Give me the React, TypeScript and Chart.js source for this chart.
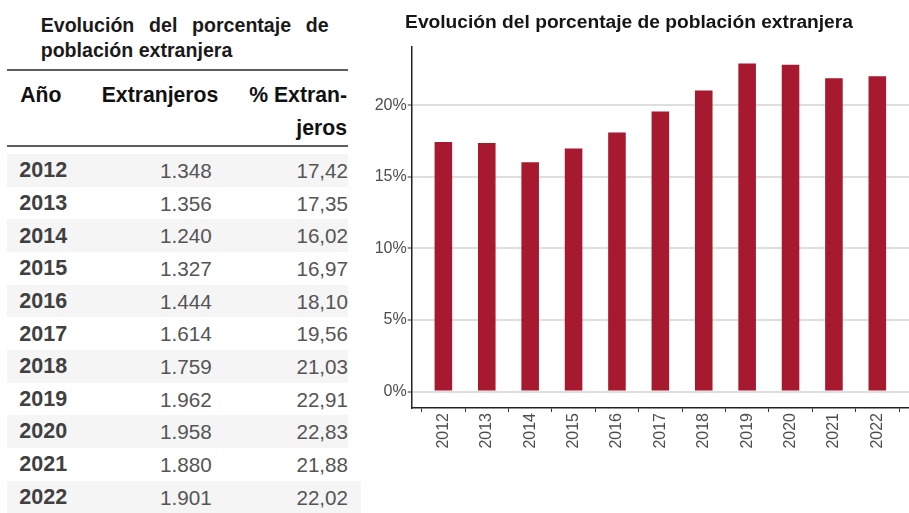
import React, { useEffect, useRef } from "react";
import { Chart, registerables } from "chart.js";

Chart.register(...registerables);

const years = [2012, 2013, 2014, 2015, 2016, 2017, 2018, 2019, 2020, 2021, 2022];
const foreigners = [1348, 1356, 1240, 1327, 1444, 1614, 1759, 1962, 1958, 1880, 1901];
const pctForeign = [17.42, 17.35, 16.02, 16.97, 18.1, 19.56, 21.03, 22.91, 22.83, 21.88, 22.02];
const yTicks = [0, 5, 10, 15, 20];

const chartTitle = "Evolución del porcentaje de población extranjera";
const tableTitle = "Evolución del porcentaje de población extranjera";
const headYear = "Año";
const headCount = "Extranjeros";
const headPct1 = "% Extran-";
const headPct2 = "jeros";

const FONT = '"Liberation Sans", Arial, Helvetica, sans-serif';
const BAR = "#A6192E";

const fmtThousands = (n: number) => {
  const s = String(n);
  return s.replace(/\B(?=(\d{3})+(?!\d))/g, ".");
};
const fmtPct = (n: number) => n.toFixed(2).replace(".", ",");

type TxtProps = {
  x: number;
  base: number;
  size: number;
  bold?: boolean;
  color: string;
  align?: "left" | "right";
  children: React.ReactNode;
};

function Txt({ x, base, size, bold, color, align = "left", children }: TxtProps) {
  const L = Math.round(size * 1.3);
  const top = base - L / 2 - 0.3465 * size;
  const w = 300;
  return (
    <div
      style={{
        position: "absolute",
        top,
        left: align === "left" ? x : x - w,
        width: w,
        textAlign: align,
        fontSize: size,
        lineHeight: L + "px",
        fontWeight: bold ? 700 : 400,
        color,
        whiteSpace: "nowrap",
        fontFamily: FONT,
      }}
    >
      {children}
    </div>
  );
}

function BarChart() {
  const ref = useRef<HTMLCanvasElement | null>(null);
  useEffect(() => {
    if (!ref.current) return;
    const chart = new Chart(ref.current, {
      type: "bar",
      data: {
        datasets: [
          {
            data: years.map((y, i) => ({ x: y, y: pctForeign[i] })),
            backgroundColor: BAR,
            borderWidth: 0,
            barPercentage: 0.405,
            categoryPercentage: 1,
          },
        ],
      },
      options: {
        animation: false,
        responsive: false,
        maintainAspectRatio: false,
        layout: { padding: 0 },
        plugins: {
          legend: { display: false },
          tooltip: { enabled: false },
          title: {
            display: true,
            text: chartTitle,
            color: "#151515",
            font: { family: FONT, size: 19.2, weight: "bold" },
            padding: { top: 11, bottom: 13 },
          },
        },
        scales: {
          x: {
            type: "linear",
            min: years[0] - 0.73,
            max: years[years.length - 1] + 0.73,
            offset: false,
            grid: {
              drawOnChartArea: false,
              drawTicks: true,
              tickLength: 4,
              tickColor: "#333333",
              tickWidth: 1,
            },
            border: { display: true, color: "#222222", width: 1.5 },
            ticks: {
              autoSkip: false,
              maxRotation: 90,
              minRotation: 90,
              padding: 1,
              color: "#4d4d4d",
              font: { family: FONT, size: 16 },
              callback: (v: any) => String(v),
            },
            afterBuildTicks: (s: any) => {
              s.ticks = years.map((v) => ({ value: v }));
            },
            afterFit: (s: any) => {
              s.height = 105;
            },
          },
          y: {
            type: "linear",
            min: -1.15,
            max: 24.06,
            grid: {
              color: "#dedede",
              lineWidth: 2,
              tickColor: "#333333",
              tickLength: 4,
              tickWidth: 1,
            },
            border: { display: true, color: "#222222", width: 1.5 },
            ticks: {
              padding: 1,
              color: "#4d4d4d",
              font: { family: FONT, size: 16 },
              callback: (v: any) => v + "%",
            },
            afterBuildTicks: (s: any) => {
              s.ticks = yTicks.map((v) => ({ value: v }));
            },
            afterFit: (s: any) => {
              s.width = 62.7;
            },
          },
        },
      },
    } as any);
    return () => chart.destroy();
  }, []);
  return (
    <canvas
      ref={ref}
      width={560}
      height={513}
      style={{ position: "absolute", left: 349, top: 0, width: 560, height: 513 }}
    />
  );
}

export default function App() {
  const rowTop = 154;
  const pitch = 32.65;
  return (
    <div
      style={{
        position: "fixed",
        left: 0,
        top: 0,
        width: 909,
        height: 513,
        background: "#ffffff",
        overflow: "hidden",
        fontFamily: FONT,
      }}
    >
      {/* table title */}
      <div
        style={{
          position: "absolute",
          left: 40.7,
          top: 13.3,
          width: 288,
          fontSize: 19.6,
          lineHeight: "24.4px",
          fontWeight: 700,
          color: "#1a1a1a",
          textAlign: "justify",
          textAlignLast: "left",
        }}
      >
        {tableTitle}
      </div>
      {/* rules */}
      <div style={{ position: "absolute", left: 7, top: 69, width: 341, height: 2, background: "#5e5e5e" }} />
      <div style={{ position: "absolute", left: 7, top: 145.3, width: 341, height: 2, background: "#5e5e5e" }} />
      {/* header */}
      <Txt x={20.3} base={102.3} size={21.2} bold color="#111">{headYear}</Txt>
      <Txt x={218.3} base={102.3} size={21.2} bold color="#111" align="right">{headCount}</Txt>
      <Txt x={347} base={102.3} size={21.2} bold color="#111" align="right">{headPct1}</Txt>
      <Txt x={347} base={135.5} size={21.2} bold color="#111" align="right">{headPct2}</Txt>
      {/* rows */}
      {years.map((y, i) => {
        const top = rowTop + i * pitch;
        const base = top + 16.3 + 7.4;
        const last = i === years.length - 1;
        return (
          <React.Fragment key={y}>
            {i % 2 === 0 && (
              <div
                style={{
                  position: "absolute",
                  left: 7,
                  top,
                  width: last ? 354 : 341,
                  height: pitch,
                  background: "#f5f5f5",
                }}
              />
            )}
            <Txt x={19.3} base={base} size={21.5} bold color="#404040">{String(y)}</Txt>
            <Txt x={211.7} base={base} size={20.7} color="#555555" align="right">{fmtThousands(foreigners[i])}</Txt>
            <Txt x={348} base={base} size={20.6} color="#555555" align="right">{fmtPct(pctForeign[i])}</Txt>
          </React.Fragment>
        );
      })}
      <BarChart />
    </div>
  );
}
